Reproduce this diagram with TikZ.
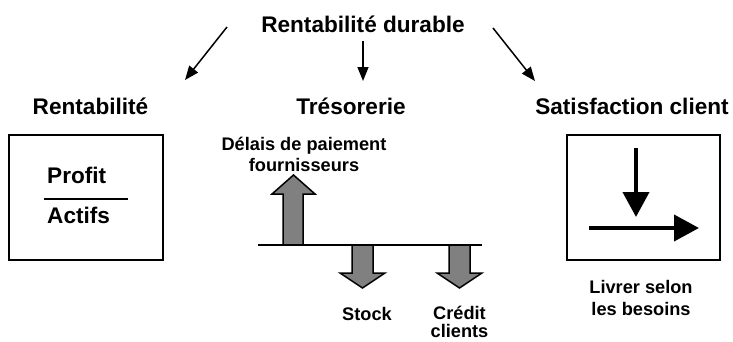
\documentclass[tikz,border=0pt]{standalone}
\usepackage{fontspec}
\setmainfont{Liberation Sans}
\usetikzlibrary{arrows.meta}

\begin{document}
\begin{tikzpicture}[x=1pt,y=-1pt]
    \tikzstyle{big}=[font=\bfseries\fontsize{22.6}{26}\selectfont,inner sep=0pt,anchor=base]
    \tikzstyle{small}=[font=\bfseries\fontsize{18.2}{21.5}\selectfont,inner sep=0pt,anchor=base,align=center]
    \tikzstyle{thin}=[line width=1.5pt,-{Triangle[length=14pt,width=11pt]}]
    \tikzstyle{flux}=[fill=gray,draw=black,line width=1.5pt,line join=miter]
    \tikzstyle{fat}=[line width=4pt,-{Triangle[length=25pt,width=26pt]}]
    \useasboundingbox (0,0) rectangle (733,341);

    \node[big] (titre) at (363,32) {Rentabilité durable};
    \foreach \nom/\x/\txt in {rent/90.5/Rentabilité, treso/351/Trésorerie, satis/632/Satisfaction client}
        \node[big] (\nom) at (\x,114) {\txt};

    % fleches du haut
    \foreach \nom/\xa/\ya/\xb/\yb in {g/227/27/185/80, m/363/41/363/81, d/493/28/535/81}
    {
        \coordinate (\nom-a) at (\xa,\ya);
        \coordinate (\nom-b) at (\xb,\yb);
        \draw[thin] (\nom-a) -- (\nom-b);
    }

    % rentabilite
    \node[draw,line width=1.5pt,minimum width=154pt,minimum height=125pt] (ratio) at (86,197.5) {};
    \node[big,anchor=base west] (profit) at (47,183) {Profit};
    \node[big,anchor=base west] (actifs) at (47,223) {Actifs};
    \draw[line width=1.5pt] (44,199) -- (128,199);

    % tresorerie
    \draw[flux] (283,245) -- (283,194) -- (272,194) -- (293.5,175) -- (315,194) -- (303,194) -- (303,245) -- cycle;
    \foreach \nom/\x in {stock/362.5, credit/459.5}
        \draw[flux] ({\x-10.5},245) -- ({\x-10.5},273) -- ({\x-22.5},273) -- (\x,288) -- ({\x+22.5},273) -- ({\x+10.5},273) -- ({\x+10.5},245) -- cycle;
    \draw[line width=2pt] (258,245) -- (482,245);
    \node[small] (delais) at (304,150) {Délais de paiement};
    \node[small] (fourn) at (304,171) {fournisseurs};
    \node[small] (stock) at (367,320) {Stock};
    \node[small] (credit) at (459.5,319) {Crédit};
    \node[small] (clients) at (459.5,337) {clients};

    % satisfaction
    \node[draw,line width=1.5pt,minimum width=153pt,minimum height=125pt] (livr) at (643.5,197.5) {};
    \coordinate (v-a) at (636,148);
    \coordinate (v-b) at (636,217);
    \coordinate (h-a) at (589,228);
    \coordinate (h-b) at (699,228);
    \draw[fat] (v-a) -- (v-b);
    \draw[fat] (h-a) -- (h-b);
    \node[small] (livrer) at (641,293) {Livrer selon};
    \node[small] (besoins) at (641,315) {les besoins};
\end{tikzpicture}
\end{document}
